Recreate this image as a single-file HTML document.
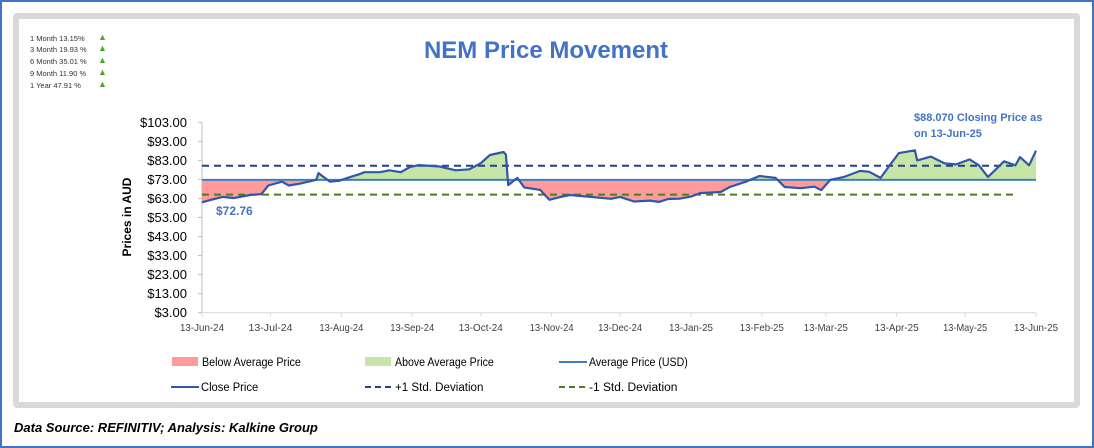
<!DOCTYPE html>
<html><head><meta charset="utf-8">
<style>
html,body{margin:0;padding:0;background:#fff;}
body{width:1094px;height:448px;position:relative;overflow:hidden;font-family:"Liberation Sans",sans-serif;}
.outer{position:absolute;left:0;top:0;width:1090px;height:444px;border:2px solid #4472C4;}
.frame{position:absolute;left:13px;top:13px;width:1055px;height:383px;border:6px solid #d9d9d9;border-radius:4px;}
.perf{position:absolute;left:30px;font-size:7.5px;color:#333;}
.tri{color:#4ea72e;font-size:9px;position:absolute;left:68px;top:-2px;}
</style></head><body>
<div class="outer"></div>
<div class="frame"></div>
<div class="perf" style="top:34px">1 Month 13.15%<span class="tri">▲</span></div>
<div class="perf" style="top:45px">3 Month 19.93 %<span class="tri">▲</span></div>
<div class="perf" style="top:57px">6 Month 35.01 %<span class="tri">▲</span></div>
<div class="perf" style="top:69px">9 Month 11.90 %<span class="tri">▲</span></div>
<div class="perf" style="top:81px">1 Year 47.91 %<span class="tri">▲</span></div>
<svg id="chart" width="1094" height="448" style="position:absolute;left:0;top:0"></svg>
<div style="position:absolute;left:14px;top:420px;font-size:13px;font-weight:bold;font-style:italic;color:#000">Data Source: REFINITIV; Analysis: Kalkine Group</div>
<script>
const days=[0,4,9,14,21,26,29,35,38,43,50,51,56,60,65,69,71,78,82,87,91,95,104,111,117,122,126,132,133,134,138,141,148,152,157,161,170,179,183,189,196,200,204,209,214,218,227,231,238,244,251,255,262,268,271,275,281,288,292,297,301,305,312,313,319,325,330,336,340,344,347,351,356,358,362,365];
const prices=[61,62.3,63.8,63.2,64.8,65.3,69.8,71.8,69.8,70.8,72.8,76.3,71.8,72.3,74.3,75.8,76.8,76.8,77.8,76.8,79.5,80.5,79.8,77.8,78.3,81.5,85.8,87.4,86,70,73.8,68.8,67.5,62.3,63.8,64.8,63.8,62.8,63.8,61.4,61.9,61.2,62.7,62.9,64,65.8,66.4,69,71.8,74.8,73.8,69,68.4,69.2,67.4,72.8,74.3,77.5,77,73.8,80.5,86.8,88.3,83,85,81.4,80.9,83.5,80.4,74.3,77.8,82.5,80.4,84.7,80.4,88.07];
const avgPrice=72.76, sdPlus=80.2, sdMinus=65.0;
const yTicks=[3,13,23,33,43,53,63,73,83,93,103];
const xTickDays=[0,30,61,92,122,153,183,214,245,273,304,334,365];
const xTickLabels=["13-Jun-24","13-Jul-24","13-Aug-24","13-Sep-24","13-Oct-24","13-Nov-24","13-Dec-24","13-Jan-25","13-Feb-25","13-Mar-25","13-Apr-25","13-May-25","13-Jun-25"];

const NS="http://www.w3.org/2000/svg";
const svg=document.getElementById('chart');
const X0=202,X1=1036,Y0=312.7,Y1=122.3;
const x=d=>X0+(d/365)*(X1-X0);
const y=v=>Y0-(v-3)/100*(Y0-Y1);
function mk(tag,attrs,parent){const e=document.createElementNS(NS,tag);for(const k in attrs)e.setAttribute(k,attrs[k]);(parent||svg).appendChild(e);return e;}

let t=mk('text',{x:546,y:58,'text-anchor':'middle','font-size':'24','font-weight':'bold',fill:'#4472C4'});


t.textContent='NEM Price Movement';

let ax=mk('line',{x1:X0,y1:Y1,x2:X0,y2:Y0,stroke:'#bfbfbf'});


let xa=mk('line',{x1:X0,y1:Y0,x2:X1,y2:Y0,stroke:'#d9d9d9'});


yTicks.forEach(v=>{
  mk('line',{x1:X0-4,y1:y(v),x2:X0,y2:y(v),stroke:'#bfbfbf'});
  const l=mk('text',{x:187,y:y(v)+4.5,'text-anchor':'end','font-size':'13',fill:'#000'});
  
  
  l.textContent='$'+v.toFixed(2);
});
xTickDays.forEach((d,i)=>{
  mk('line',{x1:x(d),y1:Y0,x2:x(d),y2:Y0+4,stroke:'#d9d9d9'});
  const l=mk('text',{x:x(d),y:331,'text-anchor':'middle','font-size':'10.5',fill:'#404040',textLength:44,lengthAdjust:'spacingAndGlyphs'});
  
  
  l.textContent=xTickLabels[i];
});
let yt=mk('text',{x:0,y:0,'text-anchor':'middle','font-size':'12','font-weight':'bold',transform:'translate(131,217) rotate(-90)'});


yt.textContent='Prices in AUD';

const ya=y(avgPrice);
const defs=mk('defs',{});
const c1=mk('clipPath',{id:'above'},defs);mk('rect',{x:0,y:0,width:1094,height:ya},c1);
const c2=mk('clipPath',{id:'below'},defs);mk('rect',{x:0,y:ya,width:1094,height:448},c2);
const pts=days.map((d,i)=>x(d).toFixed(1)+','+y(prices[i]).toFixed(1));
const area='M'+x(days[0])+','+ya+' L'+pts.join(' L')+' L'+x(days[days.length-1])+','+ya+' Z';
let ga=mk('path',{d:area,fill:'#c6e5a6','clip-path':'url(#above)'});


let ra=mk('path',{d:area,fill:'#ff9b9b','clip-path':'url(#below)'});



let sp=mk('line',{x1:X0,y1:y(sdPlus),x2:1014,y2:y(sdPlus),stroke:'#1f3f8f','stroke-width':2,'stroke-dasharray':'7,5'});


let sm=mk('line',{x1:X0,y1:y(sdMinus),x2:1014,y2:y(sdMinus),stroke:'#4e7a22','stroke-width':2,'stroke-dasharray':'7,5'});


let al=mk('line',{x1:X0,y1:ya,x2:X1,y2:ya,stroke:'#3f7fc0','stroke-width':2});


let cl=mk('polyline',{points:pts.join(' '),fill:'none',stroke:'#3057a8','stroke-width':2.2,'stroke-linejoin':'round'});



let a1=mk('text',{x:216,y:215,'font-size':'12','font-weight':'bold',fill:'#4472C4'});


a1.textContent='$'+avgPrice.toFixed(2);
let a2=mk('text',{x:914,y:121,'font-size':'11','font-weight':'bold',fill:'#4472C4'});


a2.textContent='$88.070 Closing Price as';
let a3=mk('text',{x:914,y:137,'font-size':'11','font-weight':'bold',fill:'#4472C4'});


a3.textContent='on 13-Jun-25';

function leg(xs,yy,kind,color,label,name){
  const g=mk('g',{});
  
  
  if(kind==='rect')mk('rect',{x:xs,y:yy-5,width:26,height:9,fill:color},g);
  else if(kind==='line')mk('line',{x1:xs,y1:yy,x2:xs+28,y2:yy,stroke:color,'stroke-width':2},g);
  else mk('line',{x1:xs,y1:yy,x2:xs+28,y2:yy,stroke:color,'stroke-width':2,'stroke-dasharray':'6,4'},g);
  const tx=mk('text',{x:xs+30,y:yy+4,'font-size':'11.5',fill:'#000',textLength:label.length*5.2,lengthAdjust:'spacingAndGlyphs'},g);tx.textContent=label;
}
leg(172,362,'rect','#ff9b9b','Below Average Price','legend-below-average');
leg(365,362,'rect','#c6e5a6','Above Average Price','legend-above-average');
leg(559,362,'line','#3f7fc0','Average Price (USD)','legend-average-price');
leg(171,387,'line','#3057a8','Close Price','legend-close-price');
leg(365,387,'dash','#1f3f8f','+1 Std. Deviation','legend-plus-1-std');
leg(559,387,'dash','#4e7a22','-1 Std. Deviation','legend-minus-1-std');
</script>
</body></html>
